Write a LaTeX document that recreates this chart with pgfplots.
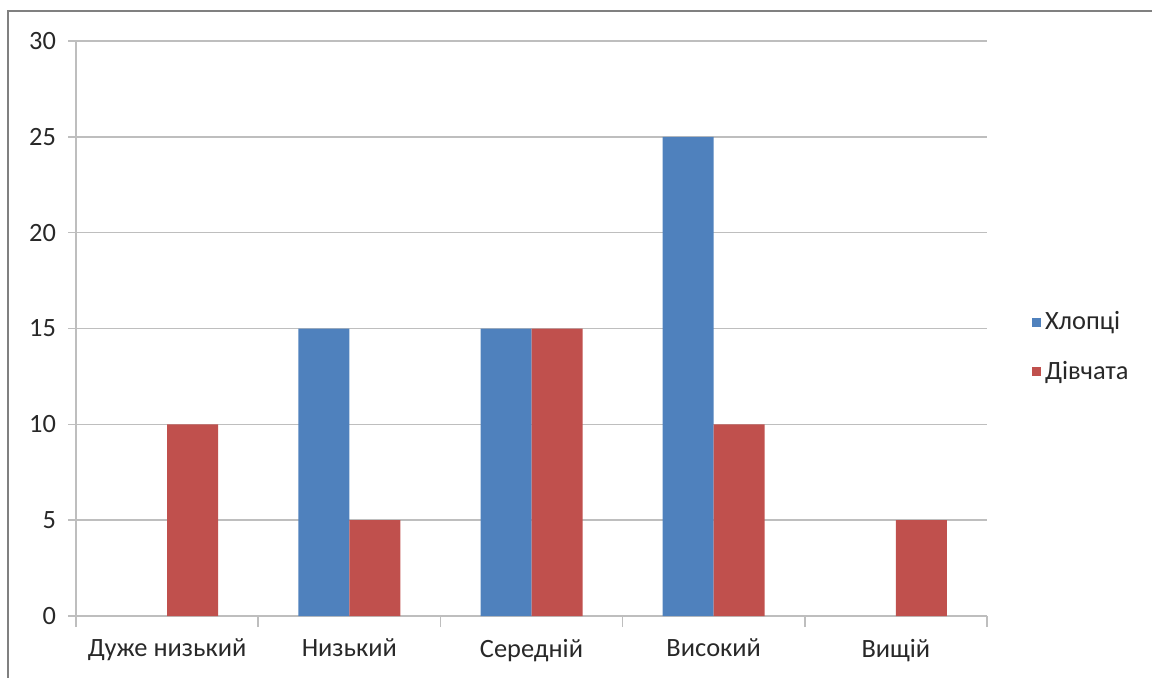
\documentclass[border=0pt]{standalone}
\usepackage{pgfplots}
\pgfplotsset{compat=1.18}
\usepackage{fontspec}
\setmainfont{Carlito}
\definecolor{cblue}{HTML}{4F81BD}
\definecolor{cred}{HTML}{C0504D}
\definecolor{gridc}{RGB}{190,190,190}
\definecolor{txt}{RGB}{40,40,40}
\begin{document}
\begin{tikzpicture}
\useasboundingbox (0,0) rectangle (576pt,338.5pt);
\draw[black!50, line width=1.2pt] (4pt,-2pt) -- (4pt,333pt) -- (580pt,333pt);
\begin{axis}[
  at={(38pt,30.5pt)}, anchor=south west,
  scale only axis, width=455.5pt, height=287.5pt,
  font=\fontsize{13.2pt}{15pt}\selectfont,
  ybar=0pt, bar width=25.5pt,
  xmin=-0.5, xmax=4.5, ymin=0, ymax=30,
  axis x line*=bottom, axis y line*=left,
  axis line style={gridc, line width=0.8pt},
  xtick={0,1,2,3,4},
  xticklabels={Дуже низький, Низький, Середній, Високий, Вищій},
  major x tick style={draw=none},
  minor xtick={-0.5,0.5,1.5,2.5,3.5,4.5},
  minor x tick style={gridc, line width=0.8pt},
  ytick={0,5,...,30},
  ymajorgrids, grid style={gridc, line width=0.8pt},
  y tick style={gridc, line width=0.8pt},
  tick align=outside,
  major tick length=4pt, minor tick length=5.5pt,
  /pgf/number format/assume math mode=true,
  yticklabel style={xshift=-2.5pt, text=txt},
  xticklabel style={yshift=-4pt, text=txt},
  legend style={draw=none, at={(1.049,0.468)}, anchor=west, row sep=10pt,
    font=\fontsize{13.2pt}{15pt}\selectfont, inner sep=0pt, text=txt},
  legend cell align=left,
  legend image code/.code={\fill[#1] (0.5pt,-2.3pt) rectangle (5pt,2.3pt);},
]
\addplot[fill=cblue, draw=none] coordinates {(1,15) (2,15) (3,25)};
\addplot[fill=cred, draw=none] coordinates {(0,10) (1,5) (2,15) (3,10) (4,5)};
\legend{Хлопці, Дівчата}
\end{axis}
\end{tikzpicture}
\end{document}
